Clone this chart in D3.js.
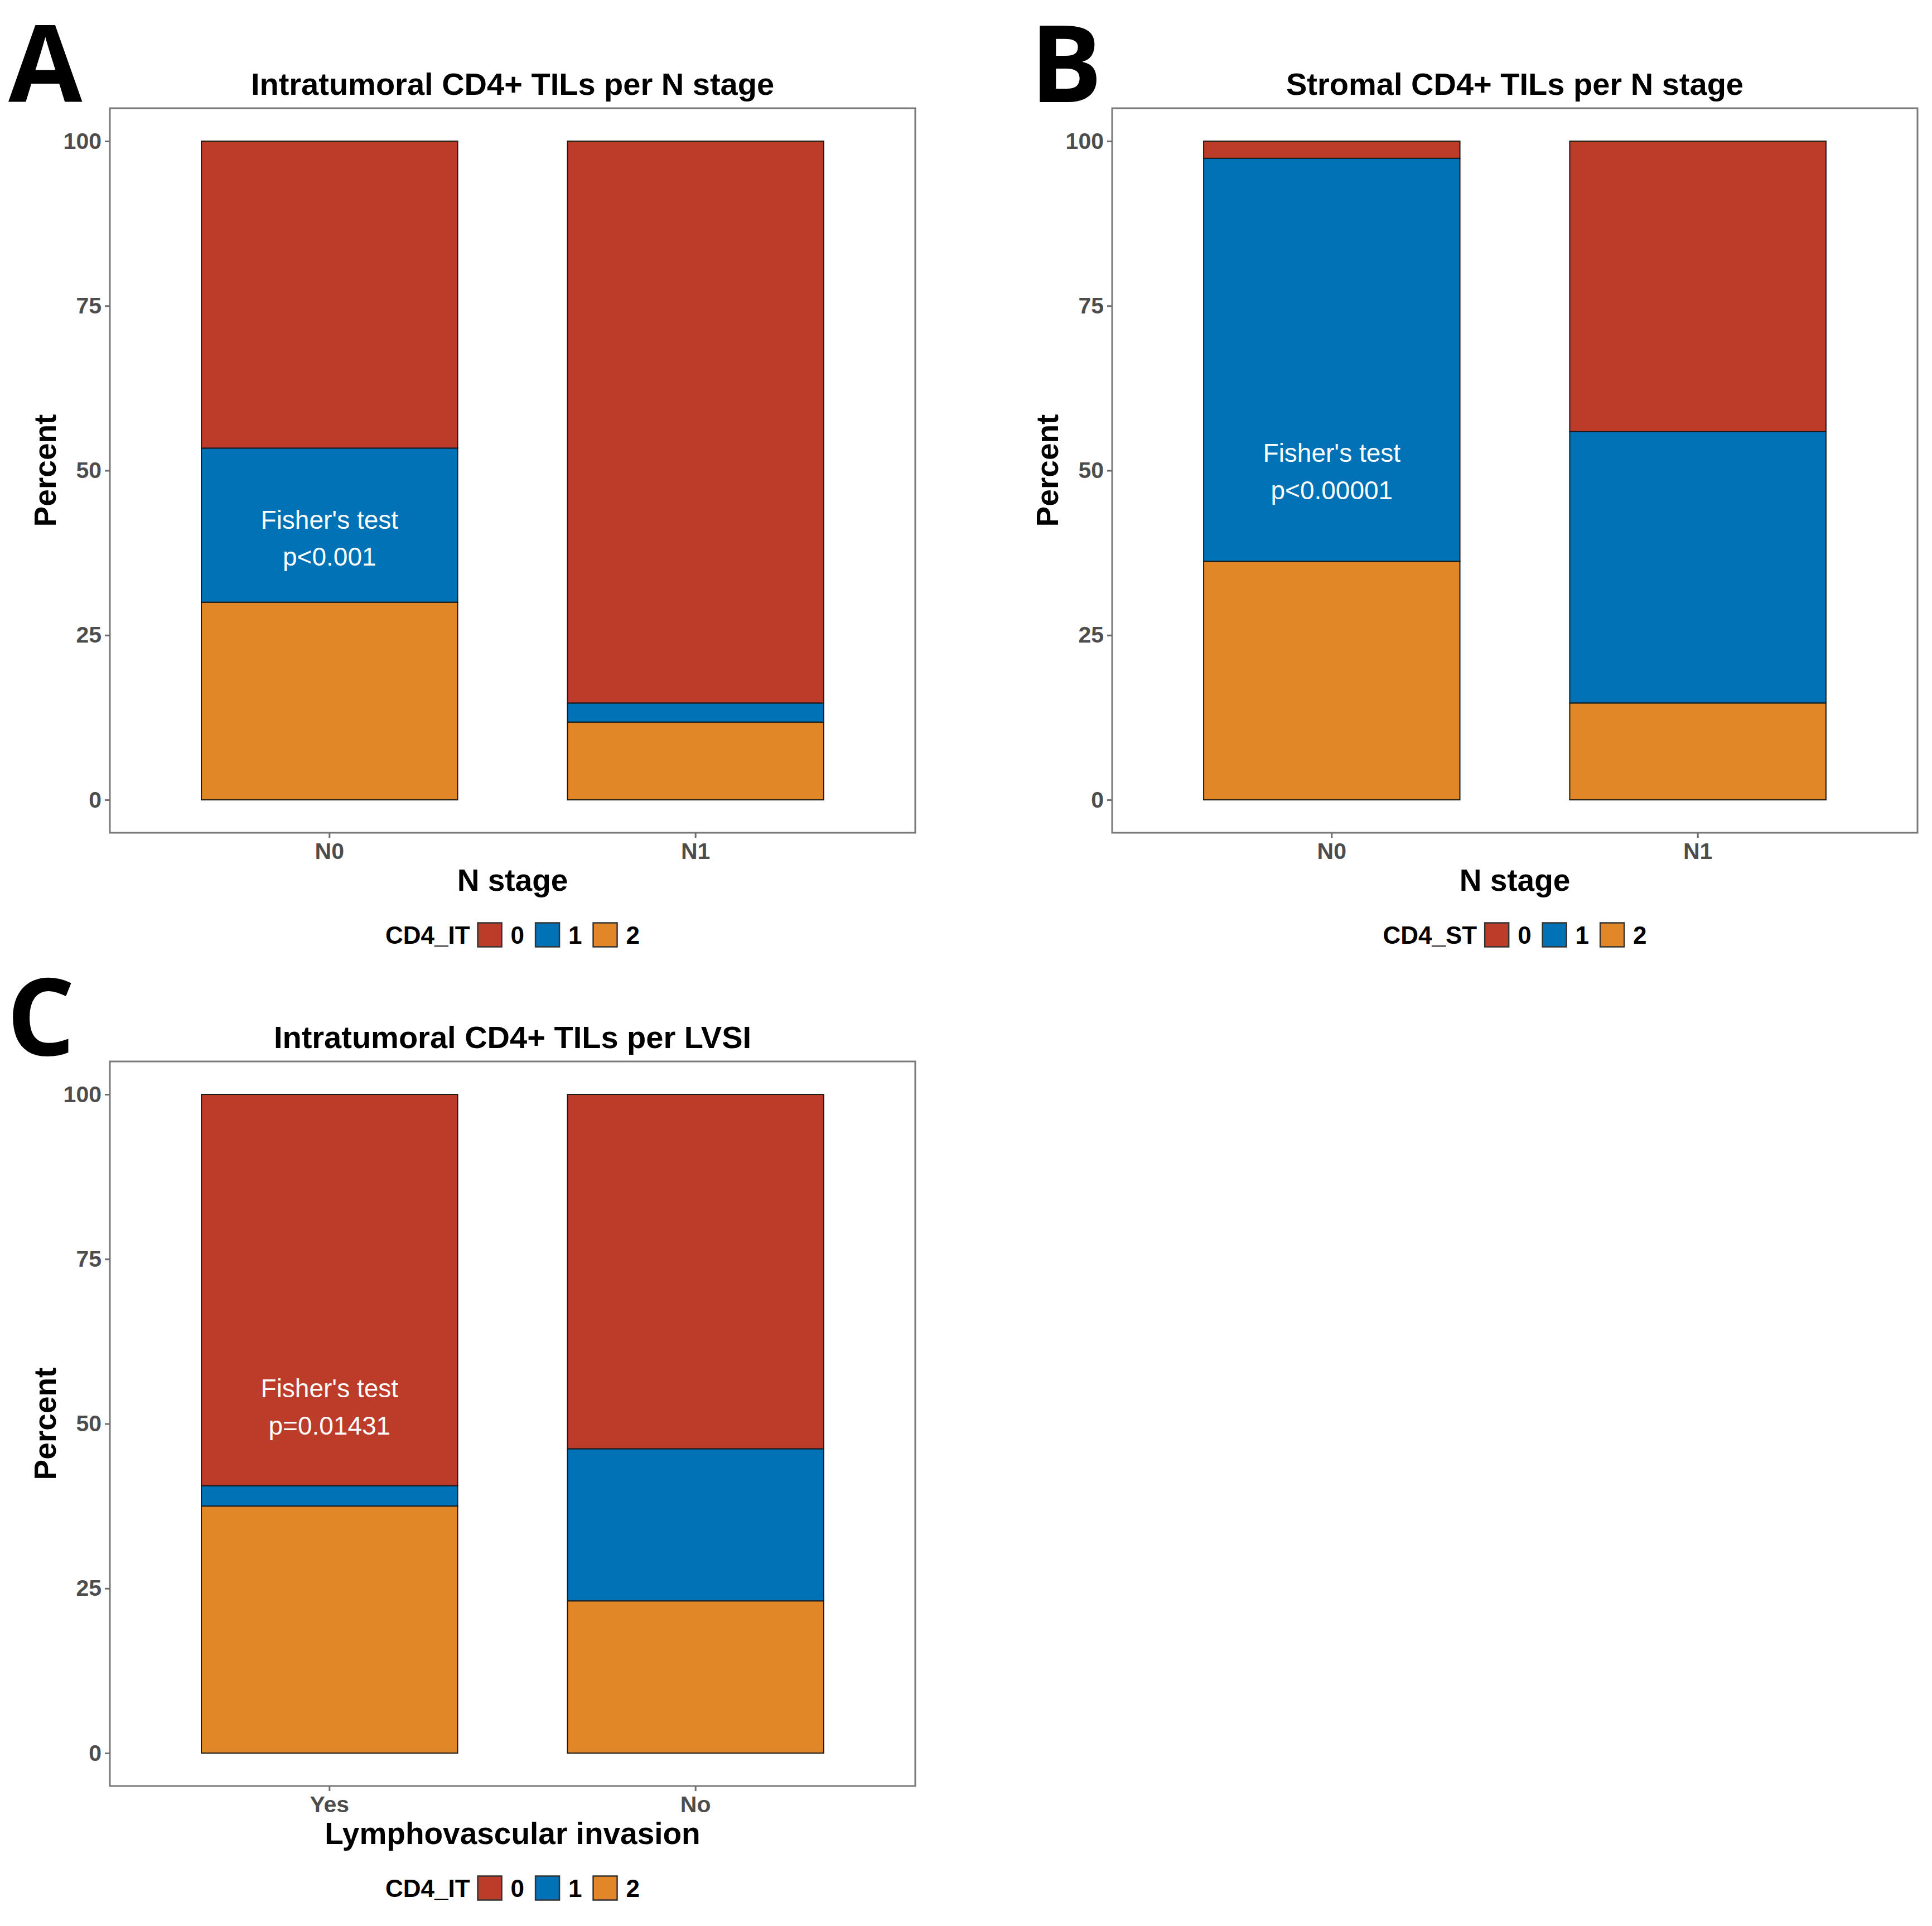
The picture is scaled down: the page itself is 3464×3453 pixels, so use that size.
<!DOCTYPE html>
<html>
<head>
<meta charset="utf-8">
<script src="https://cdn.jsdelivr.net/npm/d3@7"></script>
<style>
  body { margin: 0; background: #fff; }
  text { font-family: "Liberation Sans", Arial, sans-serif; }
</style>
</head>
<body>
<div id="chart"></div>
<script>
// Data (percent per category)
const levels = ["0", "1", "2"];
const nStageGroups = ["N0", "N1"];
const lvsiGroups = ["Yes", "No"];
const yTicks = [0, 25, 50, 75, 100];

// A: intratumoral CD4 per N stage
const itNStage0 = [46.6, 85.3];
const itNStage1 = [23.4, 2.9];
const itNStage2 = [30.0, 11.8];

// B: stromal CD4 per N stage
const stNStage0 = [2.6, 44.1];
const stNStage1 = [61.2, 41.2];
const stNStage2 = [36.2, 14.7];

// C: intratumoral CD4 per LVSI
const itLvsi0 = [59.4, 53.8];
const itLvsi1 = [3.1, 23.1];
const itLvsi2 = [37.5, 23.1];

const colors = { "0": "#BC3C29", "1": "#0072B5", "2": "#E18727" };

const W = 3464, H = 3453;
const svg = d3.select("#chart").append("svg")
    .attr("width", W)
    .attr("height", H);
svg.append("rect").attr("width", W).attr("height", H).attr("fill", "#fff");

// panel geometry, relative to each panel's offset
const box = { left: 197, right: 1641, top: 194, bottom: 1493 };

const panels = [
  { letter: "A", ox: 0, oy: 0, lx: 15, ly: 183,
    title: "Intratumoral CD4+ TILs per N stage", groups: nStageGroups,
    xTitle: "N stage", legendTitle: "CD4_IT",
    values: { "0": itNStage0, "1": itNStage1, "2": itNStage2 },
    note: ["Fisher's test", "p<0.001"], noteY: 39.7 },
  { letter: "B", ox: 1797, oy: 0, lx: 1847, ly: 183,
    title: "Stromal CD4+ TILs per N stage", groups: nStageGroups,
    xTitle: "N stage", legendTitle: "CD4_ST",
    values: { "0": stNStage0, "1": stNStage1, "2": stNStage2 },
    note: ["Fisher's test", "p<0.00001"], noteY: 49.8 },
  { letter: "C", ox: 0, oy: 1709, lx: 12, ly: 1892,
    title: "Intratumoral CD4+ TILs per LVSI", groups: lvsiGroups,
    xTitle: "Lymphovascular invasion", legendTitle: "CD4_IT",
    values: { "0": itLvsi0, "1": itLvsi1, "2": itLvsi2 },
    note: ["Fisher's test", "p=0.01431"], noteY: 52.5 }
];

panels.forEach(function(p) {
  // big panel letter
  svg.append("text")
      .attr("x", p.lx)
      .attr("y", p.ly)
      .style("font-family", "'Open Sans', sans-serif")
      .style("font-weight", 700)
      .style("font-size", "192px")
      .text(p.letter);

  const g = svg.append("g")
      .attr("transform", `translate(${p.ox},${p.oy})`);

  const x = d3.scaleBand()
      .domain(p.groups)
      .range([box.left, box.right])
      .paddingInner(0.3)
      .paddingOuter(0.25);

  const y = d3.scaleLinear()
      .domain([-5, 105])
      .range([box.bottom, box.top]);

  // stacked bars: level 2 at the bottom, then 1, then 0 on top
  const rows = p.groups.map((grp, i) => {
    const r = { group: grp };
    levels.forEach(l => { r[l] = p.values[l][i]; });
    return r;
  });
  const stack = d3.stack().keys(["2", "1", "0"])(rows);

  stack.forEach(function(layer) {
    g.selectAll(null)
      .data(layer)
      .enter()
      .append("rect")
      .attr("x", d => x(d.data.group))
      .attr("width", x.bandwidth())
      .attr("y", d => y(d[1]))
      .attr("height", d => y(d[0]) - y(d[1]))
      .attr("fill", colors[layer.key])
      .attr("stroke", "#1a1a1a")
      .attr("stroke-width", 2);
  });

  // panel border
  g.append("rect")
      .attr("x", box.left)
      .attr("y", box.top)
      .attr("width", box.right - box.left)
      .attr("height", box.bottom - box.top)
      .attr("fill", "none")
      .attr("stroke", "#7a7a7a")
      .attr("stroke-width", 3);

  // axes
  const yAxis = g.append("g")
      .attr("transform", `translate(${box.left},0)`)
      .call(d3.axisLeft(y).tickValues(yTicks).tickSize(9).tickPadding(6));
  const xAxis = g.append("g")
      .attr("transform", `translate(0,${box.bottom})`)
      .call(d3.axisBottom(x).tickSize(9).tickPadding(9));
  [yAxis, xAxis].forEach(a => {
    a.select(".domain").remove();
    a.selectAll(".tick line").attr("stroke", "#6e6e6e").attr("stroke-width", 3);
    a.selectAll(".tick text")
      .attr("fill", "#4D4D4D")
      .style("font-family", "'Liberation Sans', Arial, sans-serif")
      .style("font-weight", "bold")
      .style("font-size", "41px");
  });

  const cx = (box.left + box.right) / 2;
  const cy = (box.top + box.bottom) / 2;

  // title
  g.append("text")
      .attr("x", cx)
      .attr("y", 170)
      .attr("text-anchor", "middle")
      .style("font-weight", "bold")
      .style("font-size", "56px")
      .text(p.title);

  // axis titles
  g.append("text")
      .attr("x", cx)
      .attr("y", 1597)
      .attr("text-anchor", "middle")
      .style("font-weight", "bold")
      .style("font-size", "55px")
      .text(p.xTitle);

  g.append("text")
      .attr("transform", `translate(100,${cy}) rotate(-90)`)
      .attr("text-anchor", "middle")
      .style("font-weight", "bold")
      .style("font-size", "55px")
      .text("Percent");

  // Fisher's test annotation
  const nx = x(p.groups[0]) + x.bandwidth() / 2;
  const note = g.append("text")
      .attr("x", nx)
      .attr("y", y(p.noteY))
      .attr("text-anchor", "middle")
      .attr("fill", "#fff")
      .style("font-size", "46px");
  note.append("tspan")
      .attr("x", nx)
      .attr("dy", "-0.38em")
      .text(p.note[0]);
  note.append("tspan")
      .attr("x", nx)
      .attr("dy", "1.45em")
      .text(p.note[1]);

  // legend (horizontal, centred under the panel)
  const legend = g.append("g");
  const keySize = 43;
  let pos = 0;
  const lt = legend.append("text")
      .attr("x", pos)
      .attr("y", 0)
      .attr("dominant-baseline", "central")
      .style("font-weight", "bold")
      .style("font-size", "44px")
      .text(p.legendTitle);
  pos += lt.node().getComputedTextLength() + 14;
  levels.forEach(function(l, i) {
    legend.append("rect")
        .attr("x", pos)
        .attr("y", -keySize / 2)
        .attr("width", keySize)
        .attr("height", keySize)
        .attr("fill", colors[l])
        .attr("stroke", "#333")
        .attr("stroke-width", 2.5);
    pos += keySize + 16;
    const t = legend.append("text")
        .attr("x", pos)
        .attr("y", 0)
        .attr("dominant-baseline", "central")
        .style("font-weight", "bold")
        .style("font-size", "44px")
        .text(l);
    pos += t.node().getComputedTextLength() + (i < levels.length - 1 ? 20 : 0);
  });
  legend.attr("transform", `translate(${cx - pos / 2},1676)`);
});
</script>
</body>
</html>
